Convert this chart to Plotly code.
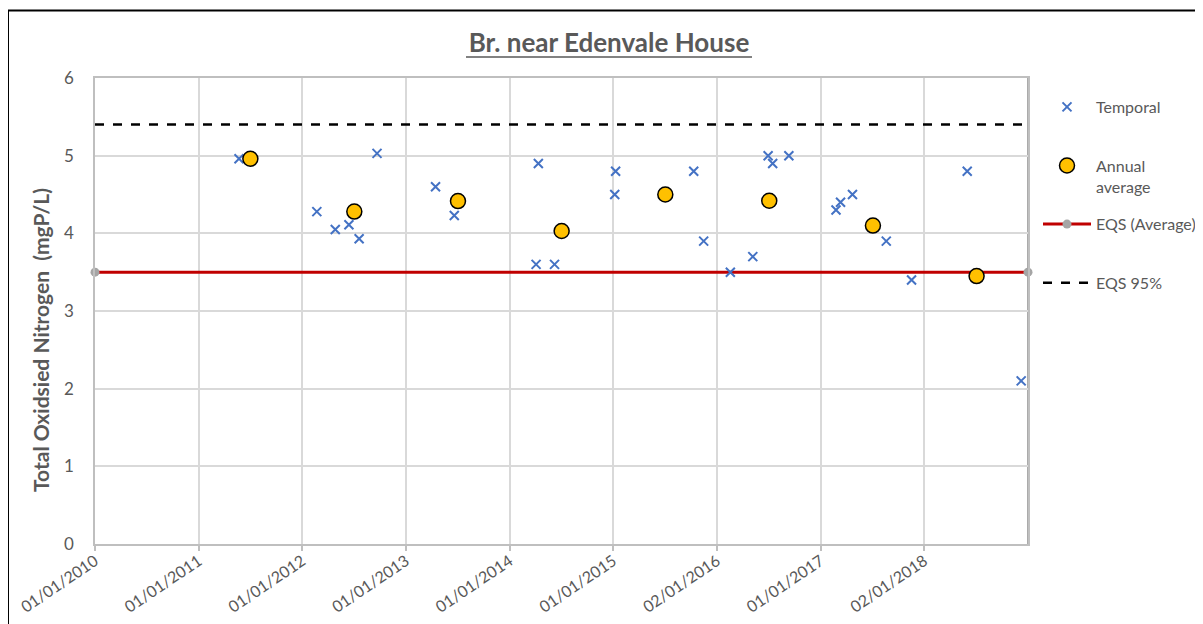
import datetime as dt
import plotly.graph_objects as go

# ---- data ----
temporal_dates = [
    "2011-05-23", "2012-02-21", "2012-04-26", "2012-06-13", "2012-07-19", "2012-09-20",
    "2013-04-14", "2013-06-19", "2014-04-03", "2014-04-11", "2014-06-07",
    "2015-01-05", "2015-01-08", "2015-10-10", "2015-11-14",
    "2016-02-16", "2016-05-05", "2016-06-28", "2016-07-14", "2016-09-09",
    "2017-02-22", "2017-03-10", "2017-04-21", "2017-08-18", "2017-11-15",
    "2018-05-30", "2018-12-06",
]
temporal_values = [
    4.96, 4.28, 4.05, 4.11, 3.93, 5.03,
    4.60, 4.23, 3.60, 4.90, 3.60,
    4.50, 4.80, 4.80, 3.90,
    3.50, 3.70, 5.00, 4.90, 5.00,
    4.30, 4.40, 4.50, 3.90, 3.40,
    4.80, 2.10,
]
annual_dates = ["2011-07-02", "2012-07-02", "2013-07-02", "2014-07-02",
                "2015-07-02", "2016-07-02", "2017-07-02", "2018-07-02"]
annual_values = [4.96, 4.28, 4.415, 4.03, 4.50, 4.42, 4.10, 3.45]

eqs_average = 3.5
eqs_95 = 5.4

axis_start = dt.date(2010, 1, 1)
axis_end = axis_start + dt.timedelta(days=365 * 9)
tick_labels = ["01/01/2010", "01/01/2011", "01/01/2012", "01/01/2013", "01/01/2014",
               "01/01/2015", "02/01/2016", "01/01/2017", "02/01/2018"]
tick_vals = [axis_start + dt.timedelta(days=365 * k) for k in range(len(tick_labels))]

title_text = "Br. near Edenvale House"
y_title = "Total Oxidsied Nitrogen  (mgP/L)"

FONT = "Lato"
GREY = "#595959"

# the page body has an 8px margin; the figure starts at page (8, 8)
OFF = 8
FW, FH = 1203 - OFF, 624 - OFF
# plot area in page pixels
PL, PR, PT, PB = 95, 1028, 78, 544
PW, PH = PR - PL, PB - PT


def px_x(p):
    return (p - PL) / PW


def px_y(p):
    return (PB - p) / PH


# every legend entry gets two lines so the entries are evenly spaced
PAD = "<br> "

fig = go.Figure()

fig.add_trace(go.Scatter(
    x=[axis_start, axis_end], y=[eqs_average, eqs_average],
    mode="lines+markers", name="EQS (Average)" + PAD,
    line=dict(color="#C00000", width=3),
    marker=dict(color="#A5A5A5", size=9),
    cliponaxis=False, legendrank=3, legendgroup="c",
))
fig.add_trace(go.Scatter(
    x=[axis_start, axis_end], y=[eqs_95, eqs_95],
    mode="lines", name="EQS 95%" + PAD,
    line=dict(color="black", width=2.5, dash="dash"),
    legendrank=4, legendgroup="d",
))
fig.add_trace(go.Scatter(
    x=temporal_dates, y=temporal_values, mode="markers", name="Temporal" + PAD,
    marker=dict(symbol="x-thin-open", size=9, line=dict(color="#4472C4", width=2),
                color="#4472C4"),
    legendrank=1, legendgroup="a",
))
fig.add_trace(go.Scatter(
    x=annual_dates, y=annual_values, mode="markers", name="Annual<br>average",
    marker=dict(symbol="circle", size=15, color="#FFC000",
                line=dict(color="black", width=1.5)),
    legendrank=2, legendgroup="b",
))

fig.update_layout(
    template="none",
    width=FW, height=FH,
    margin=dict(l=PL - OFF, r=FW - (PR - OFF), t=PT - OFF, b=FH - (PB - OFF),
                autoexpand=False),
    paper_bgcolor="white", plot_bgcolor="white",
    font=dict(family=FONT, color=GREY, size=16),
    title=dict(text="<b>" + title_text + "</b>", x=px_x(609), xref="paper",
               xanchor="center", y=1 - (43 - OFF) / FH, yanchor="middle",
               font=dict(family=FONT, size=26, color=GREY)),
    showlegend=True,
    legend=dict(x=px_x(1038), xanchor="left", y=px_y(90), yanchor="top",
                font=dict(family=FONT, size=16, color=GREY),
                itemwidth=48, tracegroupgap=14, valign="top",
                bgcolor="rgba(0,0,0,0)", borderwidth=0),
    xaxis=dict(
        type="date", range=[axis_start, axis_end], automargin=False,
        tickmode="array", tickvals=tick_vals, ticktext=tick_labels,
        tickangle=-34, ticks="outside", ticklen=5, tickcolor="#BFBFBF", tickwidth=1.5,
        ticklabelstandoff=-5,
        showgrid=True, gridcolor="#D9D9D9", gridwidth=1.5,
        showline=True, linecolor="#BFBFBF", linewidth=1.5, mirror=True,
        zeroline=False, tickfont=dict(family=FONT, size=16, color=GREY),
    ),
    yaxis=dict(
        range=[0, 6], dtick=1, tick0=0, automargin=False,
        showgrid=True, gridcolor="#D9D9D9", gridwidth=1.5,
        showline=True, linecolor="#BFBFBF", linewidth=1.5, mirror=True,
        zeroline=False, ticks="", ticklabelstandoff=16,
        tickfont=dict(family=FONT, size=17, color=GREY),
    ),
    annotations=[
        dict(text="<b>" + y_title + "</b>", xref="paper", yref="paper",
             x=px_x(40), y=px_y(340), xanchor="center", yanchor="middle",
             textangle=-90, showarrow=False,
             font=dict(family=FONT, size=21, color=GREY)),
    ],
    shapes=[
        dict(type="rect", xref="paper", yref="paper",
             x0=px_x(OFF), x1=px_x(1260), y0=px_y(700), y1=px_y(10.5),
             line=dict(color="black", width=2), fillcolor="rgba(0,0,0,0)", layer="above"),
        dict(type="line", xref="paper", yref="paper",
             x0=px_x(466), x1=px_x(752), y0=px_y(57), y1=px_y(57),
             line=dict(color=GREY, width=1.5)),
        dict(type="line", xref="paper", yref="paper", x0=1, x1=1, y0=0, y1=1,
             line=dict(color="#ABABAB", width=2), layer="below"),
    ],
)

fig.write_html("out.html")
